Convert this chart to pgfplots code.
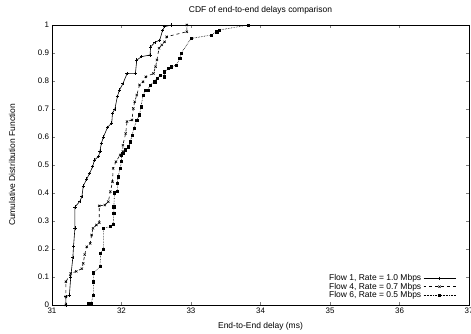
\documentclass[border=0pt]{standalone}
\usepackage{pgfplots}
\pgfplotsset{compat=1.18}
\usepackage{fontspec}
\setmainfont{Liberation Sans}
\usetikzlibrary{calc}
\begin{document}
\fontsize{8.5}{10}\selectfont
\begin{tikzpicture}
\begin{axis}[name=ax,
  scale only axis, width=417bp, height=280bp,
  xmin=31, xmax=37, ymin=0, ymax=1,
  xtick={31,32,...,37}, ytick={0,0.1,...,1.0},
  yticklabel style={/pgf/number format/fixed,/pgf/number format/precision=1},
  /pgf/number format/assume math mode=true,
  tick align=inside, major tick length=3bp,
  ticklabel style={font=\fontsize{8}{9}\selectfont},
  title={CDF of end-to-end delays comparison},
  title style={font=\fontsize{8.5}{10}\selectfont, at={(axis description cs:0.5,1)}, anchor=center, yshift=9bp},
  xlabel={End-to-End delay (ms)}, ylabel={Cumulative Distribution Function},
  label style={font=\fontsize{8.5}{10}\selectfont},
  xlabel style={at={(axis description cs:0.5,0)}, anchor=center, yshift=-21bp},
  ylabel style={at={(axis description cs:0,0.5)}, anchor=center, rotate=0, yshift=40bp},
  legend plot pos=right,
  legend cell align=right,
  legend style={draw=none, fill=none, font=\fontsize{8.5}{9}\selectfont, row sep=-3bp, inner sep=0bp,
    at={(axis description cs:1,0)}, anchor=south east, xshift=-13bp, yshift=4bp},
  legend image code/.code={\draw[mark repeat=2,mark phase=2,#1] plot coordinates {(0bp,0bp) (16bp,0bp) (32bp,0bp)};},
]
\addplot[black, mark=+, mark size=1.6pt, line width=0.6pt] coordinates {
(31.2,0) (31.2,0.03) (31.25,0.035) (31.27,0.1) (31.3,0.17) (31.31,0.21) (31.33,0.275) (31.33,0.35) (31.4,0.37) (31.43,0.387) (31.45,0.425) (31.5,0.45) (31.54,0.47) (31.585,0.494) (31.61,0.518) (31.67,0.53) (31.69,0.55) (31.71,0.577) (31.74,0.60) (31.8,0.635) (31.86,0.65) (31.87,0.685) (31.905,0.70) (31.94,0.744) (31.97,0.768) (32.02,0.79) (32.08,0.827) (32.2,0.827) (32.22,0.875) (32.29,0.887) (32.41,0.893) (32.42,0.922) (32.48,0.938) (32.55,0.946) (32.59,0.98) (32.62,0.994) (32.72,1.0)
};
\addlegendentry{Flow 1, Rate = 1.0 Mbps}
\addplot[black, dashed, mark=x, mark size=1.6pt, mark options={solid}, line width=0.6pt] coordinates {
(31.2,0) (31.2,0.03) (31.2,0.083) (31.27,0.113) (31.35,0.12) (31.43,0.13) (31.45,0.149) (31.47,0.18) (31.5,0.208) (31.55,0.22) (31.57,0.25) (31.59,0.274) (31.64,0.286) (31.68,0.294) (31.68,0.354) (31.76,0.357) (31.81,0.369) (31.84,0.405) (31.87,0.44) (31.88,0.488) (31.92,0.512) (31.98,0.536) (32.02,0.548) (32.02,0.571) (32.06,0.613) (32.08,0.655) (32.15,0.661) (32.17,0.702) (32.19,0.726) (32.22,0.75) (32.26,0.786) (32.31,0.797) (32.35,0.815) (32.46,0.827) (32.49,0.851) (32.51,0.875) (32.54,0.917) (32.58,0.929) (32.62,0.94) (32.65,0.958) (32.94,0.976) (32.94,1.0)
};
\addlegendentry{Flow 4, Rate = 0.7 Mbps}
\addplot[black, densely dotted, mark=square*, mark size=1.1pt, mark options={solid}, line width=0.6pt] coordinates {
(31.52,0.006) (31.56,0.006) (31.6,0.036) (31.6,0.083) (31.6,0.115) (31.69,0.137) (31.7,0.185) (31.74,0.2) (31.74,0.274) (31.84,0.28) (31.88,0.289) (31.89,0.327) (31.89,0.351) (31.9,0.401) (31.94,0.405) (31.94,0.435) (31.95,0.458) (31.98,0.488) (32.0,0.512) (32.0,0.536) (32.02,0.542) (32.06,0.554) (32.1,0.565) (32.13,0.583) (32.15,0.607) (32.18,0.631) (32.22,0.661) (32.26,0.679) (32.28,0.708) (32.31,0.75) (32.35,0.768) (32.38,0.768) (32.41,0.786) (32.48,0.797) (32.51,0.81) (32.56,0.821) (32.61,0.815) (32.62,0.833) (32.67,0.845) (32.72,0.851) (32.79,0.857) (32.84,0.881) (32.86,0.899) (33.0,0.952) (33.29,0.964) (33.37,0.976) (33.41,0.982) (33.82,1.0)
};
\addlegendentry{Flow 6, Rate = 0.5 Mbps}
\end{axis}
\pgfresetboundingbox
\path[use as bounding box] ($(ax.south west)+(-52bp,-29bp)$) rectangle ($(ax.north east)+(2bp,25bp)$);
\end{tikzpicture}
\end{document}
